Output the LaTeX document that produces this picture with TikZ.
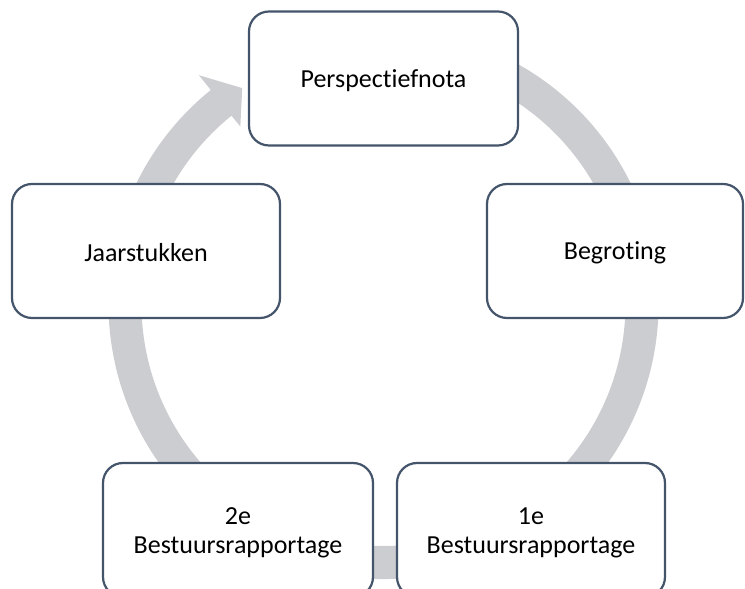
\documentclass[tikz,border=0pt]{standalone}
\usepackage{fontspec}
\setmainfont{Carlito}[Ligatures=NoCommon]
\definecolor{ringgray}{RGB}{204,205,209}
\definecolor{boxline}{RGB}{68,84,106}
\newcommand{\lowered}[2]{\raisebox{-#1}[\height][\depth]{#2}}
\begin{document}
\begin{tikzpicture}[x=1pt,y=1pt,
  stage/.style={draw=boxline, line width=2.2pt, fill=white, rounded corners=20pt,
    minimum height=134pt, align=center, inner sep=0pt,
    font=\fontsize{26}{29}\selectfont}]
\useasboundingbox (0,0) rectangle (745,589);
\clip (0,0) rectangle (745,589);
\begin{scope}[shift={(383.5,285)}]
\fill[ringgray] (100:275) arc[start angle=100,end angle=-231.1,radius=275]
  -- (128.9:294) -- (123.2:258) -- (128.9:228) -- (128.9:242)
  arc[start angle=-231.1,end angle=100,radius=242] -- cycle;
\end{scope}
\node[stage, minimum width=269pt] (pn) at (383.5,510.5) {\lowered{2pt}{Perspectiefnota}};
\node[stage, minimum width=268pt] (js) at (146,338) {\lowered{2pt}{Jaarstukken}};
\node[stage, minimum width=256pt] (bg) at (615,338) {\lowered{2pt}{Begroting}};
\node[stage, minimum width=270pt] (b2) at (238,59) {\lowered{3pt}{\begin{tabular}{@{}c@{}}2e\\Bestuursrapportage\end{tabular}}};
\node[stage, minimum width=268pt] (b1) at (531,59) {\lowered{3pt}{\begin{tabular}{@{}c@{}}1e\\Bestuursrapportage\end{tabular}}};
\end{tikzpicture}
\end{document}
